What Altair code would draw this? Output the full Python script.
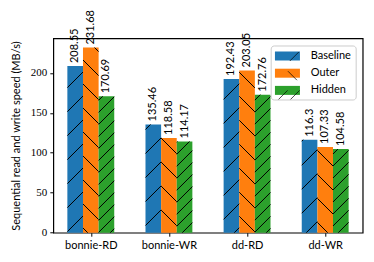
import json
import altair as alt
import pandas as pd

categories = ["bonnie-RD", "bonnie-WR", "dd-RD", "dd-WR"]
series = ["Baseline", "Outer", "Hidden"]
baseline = [208.55, 135.46, 192.43, 116.3]
outer = [231.68, 118.58, 203.05, 107.33]
hidden = [170.69, 114.17, 172.76, 104.58]
colors = ["#1f77b4", "#ff7f0e", "#2ca02c"]

values = {"Baseline": baseline, "Outer": outer, "Hidden": hidden}

# geometry of the plot (page pixels) used for hatch pattern
LEFT, TOP, W, H = 53.3, 38.3, 309.4, 194.4
BW = 0.2
XMIN, XMAX = -0.48, 3.48
YMAX = max(outer) * 1.05


def px(xd):
    return LEFT + (xd - XMIN) / (XMAX - XMIN) * W


def py(yd):
    return TOP + H - yd / YMAX * H


def dx(p):
    return XMIN + (p - LEFT) / W * (XMAX - XMIN)


def dy(p):
    return (TOP + H - p) / H * YMAX


# hatch: (direction, spacing, phase)
hatch = {"Baseline": (1, 24, 11), "Outer": (-1, 24, 23), "Hidden": (1, 12, 7)}

rows = []
hrows = []
for si, s in enumerate(series):
    for gi, c in enumerate(categories):
        v = values[s][gi]
        xc = gi + (si - 1) * BW
        rows.append({"cat": c, "series": s, "order": si, "value": v,
                     "xl": xc - BW / 2, "xr": xc + BW / 2, "xc": xc,
                     "label": str(v)})
        x0, x1 = px(xc - BW / 2), px(xc + BW / 2)
        yt, yb = py(v), py(0)
        d, sp, ph = hatch[s]
        if d == 1:
            lo, hi = x0 + yt, x1 + yb
        else:
            lo, hi = x0 - yb, x1 - yt
        k = int((lo - ph) // sp) - 1
        while True:
            C = ph + k * sp
            k += 1
            if C > hi + sp:
                break
            if d == 1:
                a, b = max(x0, C - yb), min(x1, C - yt)
                if b - a > 0.4:
                    hrows.append({"x": dx(a), "x2": dx(b),
                                  "y": dy(C - a), "y2": dy(C - b), "series": s})
            else:
                a, b = max(x0, C + yt), min(x1, C + yb)
                if b - a > 0.4:
                    hrows.append({"x": dx(a), "x2": dx(b),
                                  "y": dy(a - C), "y2": dy(b - C), "series": s})

df = pd.DataFrame(rows)
hdf = pd.DataFrame(hrows)

xscale = alt.Scale(domain=[XMIN, XMAX], nice=False, zero=False)
yscale = alt.Scale(domain=[0, YMAX], nice=False)

label_expr = json.dumps(categories) + "[datum.value]"

x_axis = alt.Axis(values=[0, 1, 2, 3], labelExpr=label_expr, title=None,
                  grid=False, domain=False, tickColor="black", tickSize=3.5,
                  tickWidth=1, labelPadding=3, labelFont="Lato",
                  labelFontSize=11, labelColor="black")
y_axis = alt.Axis(values=[0, 50, 100, 150, 200], grid=False, domain=False,
                  tickColor="black", tickSize=3.5, tickWidth=1, labelPadding=3,
                  labelFont="Liberation Serif", labelFontSize=11,
                  labelColor="black", title="Sequential read and write speed (MB/s)",
                  titleFont="Lato", titleFontSize=11, titleFontWeight="normal",
                  titleColor="black", titleX=-36.5, titleY=H / 2,
                  titleAngle=270, titleAlign="center", titleBaseline="middle")

legend_x = 270.7 - LEFT
legend_y = 45.5 - TOP

bars = alt.Chart(df).mark_bar().encode(
    x=alt.X("xl:Q", scale=xscale, axis=x_axis),
    x2="xr:Q",
    y=alt.Y("value:Q", scale=yscale, axis=y_axis),
    y2=alt.datum(0),
    fill=alt.Fill("series:N", sort=series,
                  scale=alt.Scale(range=colors),
                  legend=alt.Legend(title=None, orient="none",
                                    legendX=legend_x, legendY=legend_y,
                                    symbolType="M-1,-0.72H3V0.72H-1Z",
                                    symbolSize=156.25, symbolStrokeWidth=0,
                                    labelOffset=23, labelFont="Lato",
                                    labelFontSize=11, labelColor="black",
                                    padding=4, rowPadding=5.2,
                                    fillColor="rgba(255,255,255,0.8)",
                                    strokeColor="#cccccc", cornerRadius=3,
                                    zindex=1)),
)

hatches = alt.Chart(hdf).mark_rule(color="black", strokeWidth=1).encode(
    x=alt.X("x:Q", scale=xscale), x2="x2:Q",
    y=alt.Y("y:Q", scale=yscale), y2="y2:Q",
)

shape_paths = [
    "M1.3,0.72L2.74,-0.72",
    "M1.0,-0.72L2.44,0.72",
    "M-0.5,0.72L0.94,-0.72M1.42,0.72L2.86,-0.72",
]

legend_hatch = alt.Chart(df).mark_point(color="black", filled=False,
                                        strokeWidth=1).encode(
    x=alt.X("xc:Q", scale=xscale),
    y=alt.Y("value:Q", scale=yscale),
    shape=alt.Shape("series:N",
                    scale=alt.Scale(domain=series, range=shape_paths),
                    legend=alt.Legend(title=None, orient="none",
                                      legendX=legend_x, legendY=legend_y,
                                      symbolSize=156.25, symbolStrokeWidth=1,
                                      symbolStrokeColor="black",
                                      symbolFillColor="transparent",
                                      labelExpr="''",
                                      labelOffset=23, labelFont="Lato",
                                      labelFontSize=11, labelOpacity=0,
                                      padding=4, rowPadding=5.2, zindex=2)),
).transform_filter("false")

labels = alt.Chart(df).mark_text(angle=270, align="left", baseline="middle",
                                 dx=3, font="Lato", fontSize=11,
                                 color="black").encode(
    x=alt.X("xc:Q", scale=xscale),
    y=alt.Y("value:Q", scale=yscale),
    text="label:N",
)

chart = alt.layer(bars, hatches, labels, legend_hatch).properties(
    width=W, height=H, background="white",
    padding={"left": LEFT - 8, "top": TOP - 8, "right": 3, "bottom": 21},
    autosize=alt.AutoSizeParams(type="none"),
).configure_view(stroke="black", strokeWidth=1.2)

chart.save("out.html", embed_options={"renderer": "svg", "actions": False})
